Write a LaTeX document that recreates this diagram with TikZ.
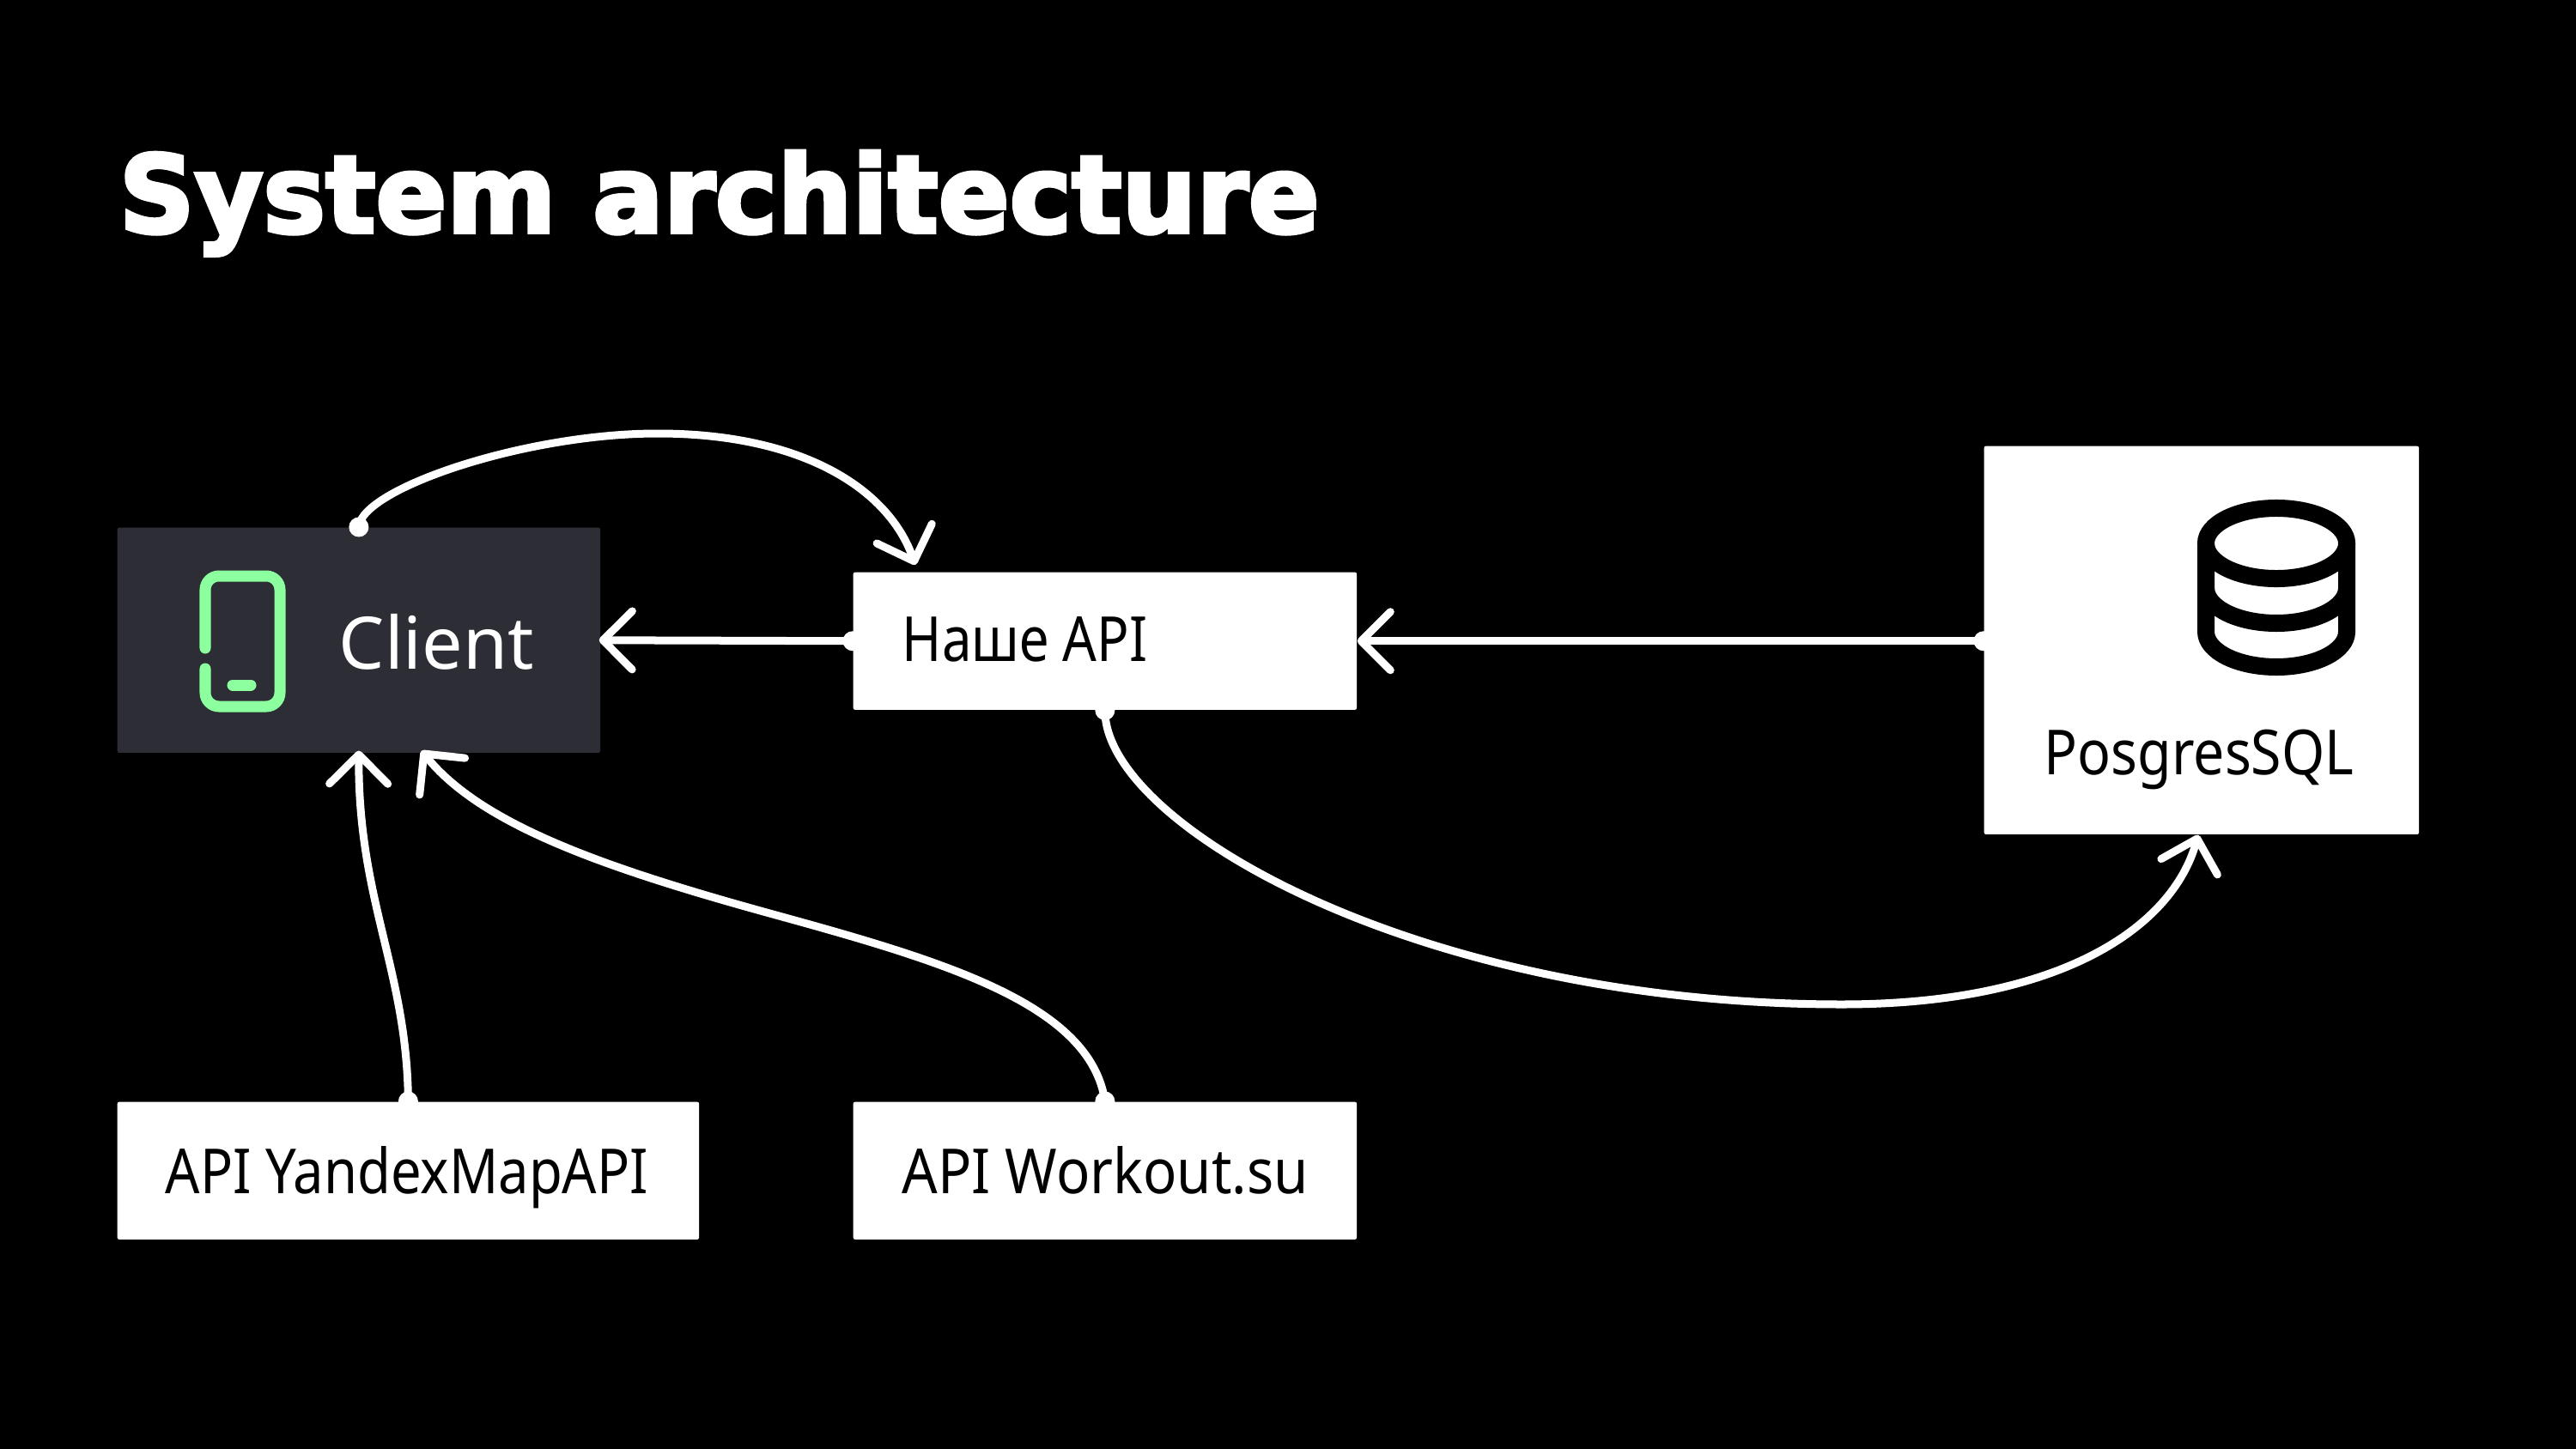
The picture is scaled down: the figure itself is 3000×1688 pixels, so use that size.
\documentclass[tikz,border=0pt]{standalone}
\usepackage{fontspec}
\setmainfont{Noto Sans}
\newfontfamily\lblfont[FakeStretch=0.89]{Noto Sans}
\newfontfamily\apifont[FakeStretch=0.86]{Noto Sans}
\newfontfamily\yanfont[FakeStretch=0.873]{Noto Sans}
\newfontfamily\wrkfont[FakeStretch=0.90]{Noto Sans}
\newfontfamily\titlefont[FakeBold=3.5]{DejaVu Sans Bold}
\usetikzlibrary{arrows.meta,calc}
\definecolor{panel}{HTML}{2D2E35}
\definecolor{phone}{HTML}{8CFF9E}
\tikzset{
  x=0.01cm,y=-0.01cm,
  whitebox/.style={fill=white,draw=none,rounded corners=0.02cm,inner sep=0,anchor=north west},
  darkbox/.style={whitebox,fill=panel},
  lbl/.style={inner sep=0,anchor=base west,font=\lblfont\fontsize{20.6pt}{24pt}\selectfont,text=black},
  conn/.style={draw=white,line width=0.09cm,line cap=round,-{Straight Barb[length=0.34cm,width=0.68cm,line width=0.09cm,round]}},
  icon/.style={line width=0.2cm,draw=black},
}
\begin{document}
\begin{tikzpicture}
\useasboundingbox[fill=black] (0,0) rectangle (3000,1688);
\node[inner sep=0,anchor=north west,text=white] (title) at (138,175) {\resizebox*{13.97cm}{1.22cm}{\titlefont System architecture}};

\node[darkbox,minimum width=5.62cm,minimum height=2.62cm] (client) at (136,614) {};
\node[whitebox,minimum width=5.86cm,minimum height=1.60cm] (api) at (993,666) {};
\node[whitebox,minimum width=5.06cm,minimum height=4.52cm] (db) at (2310,519) {};
\node[whitebox,minimum width=6.77cm,minimum height=1.60cm] (yandex) at (136,1283) {};
\node[whitebox,minimum width=5.86cm,minimum height=1.60cm] (workout) at (993,1283) {};

\node[lbl,text=white,font=\fontsize{24pt}{28pt}\selectfont] (tclient) at (394,779) {Client};
\node[lbl,font=\apifont\fontsize{20.6pt}{24pt}\selectfont] (tapi) at (1050,770) {Наше API};
\node[lbl] (tdb) at (2380,902) {PosgresSQL};
\node[lbl,font=\yanfont\fontsize{20.6pt}{24pt}\selectfont] (tyandex) at (192,1390) {API YandexMapAPI};
\node[lbl,font=\wrkfont\fontsize{20.6pt}{24pt}\selectfont] (tworkout) at (1050,1390) {API Workout.su};

% phone icon
\draw[phone,line width=0.13cm,line cap=round,rounded corners=0.16cm]
  (239,755) -- (239,671) -- (326,671) -- (326,823) -- (239,823) -- (239,779);
\draw[phone,line width=0.13cm,line cap=round] (271,798) -- (292,798);

% database icon
\draw[icon] (2651,633) ellipse [x radius=0.82cm,y radius=0.41cm];
\draw[icon,line join=round] (2569,633) -- (2569,736) arc [start angle=180,end angle=360,x radius=82,y radius=-41] -- (2733,633);
\draw[icon] (2569,685) arc [start angle=180,end angle=360,x radius=82,y radius=-41];

% connectors
\coordinate (apiin) at ($(api.north west)+(73,-8)$);
\coordinate (clientin) at ($(client.south)+(73,-3)$);
\coordinate (dbin) at ($(db.south west)+(250,0)$);

\draw[conn] (client.north) .. controls (420,570) and (610,505) .. (766,505) .. controls (935,505) and (1035,570) .. (apiin);
\draw[conn] (api.west) -- ($(client.east)+(-2,0)$);
\draw[conn] (db.west |- api.west) -- (api.east);
\draw[conn] (yandex.north) .. controls (474,1130) and (417,1050) .. ($(client.south)+(0,-3)$);
\draw[conn] (workout.north) .. controls (1270,1170) and (1100,1120) .. (900,1065) .. controls (700,1010) and (560,960) .. (clientin);
\draw[conn] (api.south) .. controls (1286,960) and (1650,1170) .. (2145,1170) .. controls (2400,1170) and (2530,1080) .. (dbin);

% start dots
\foreach \p in {client.north,api.west,db.west |- api.west,yandex.north,workout.north,api.south}
  \fill[white] (\p) circle [radius=0.115cm];
\end{tikzpicture}
\end{document}
